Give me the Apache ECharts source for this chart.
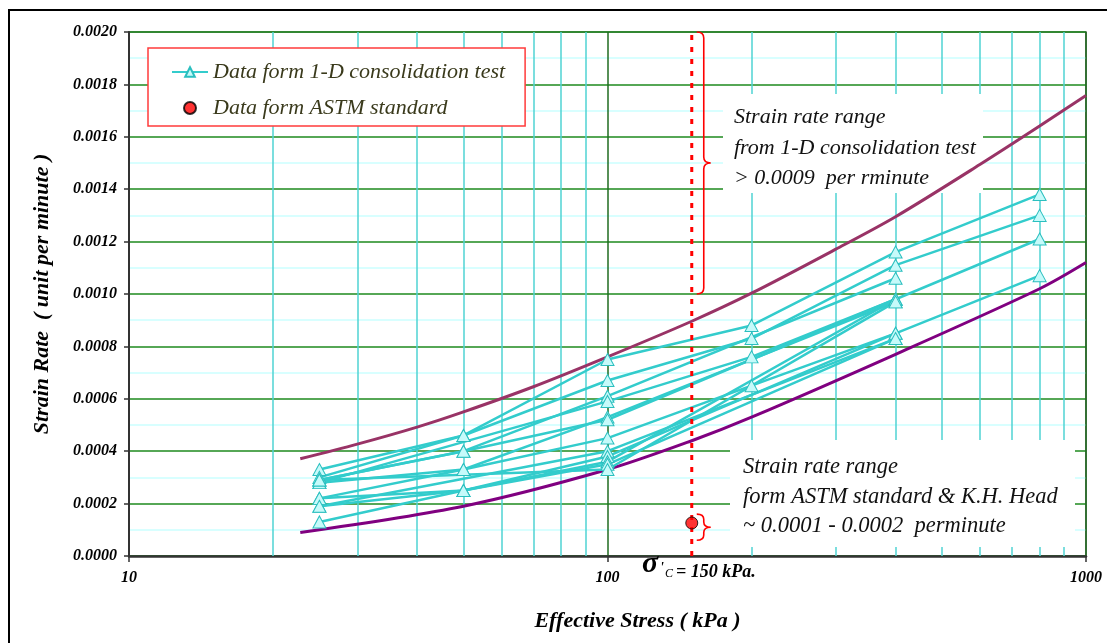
<!DOCTYPE html>
<html>
<head>
<meta charset="utf-8">
<script src="https://cdn.jsdelivr.net/npm/echarts@6/dist/echarts.min.js"></script>
<style>
  html, body { margin: 0; padding: 0; background: #ffffff; }
  #chart { width: 1107px; height: 643px; }
</style>
</head>
<body>
<div id="chart"></div>
<script>
// Load steps (kPa) used in the 1-D consolidation tests
const stressSteps = [25, 50, 100, 200, 400, 800];

// Strain rate (unit per minute) at each load step; null = step not run in that test
const test01 = [0.00033, 0.00046, 0.00075, 0.00088, 0.00116, 0.00138];
const test02 = [0.00030, 0.00046, 0.00067, 0.00083, 0.00111, 0.00130];
const test03 = [0.00029, 0.00040, 0.00061, null,    0.00106, null];
const test04 = [0.00028, null,    0.00059, 0.00076, 0.00098, 0.00121];
const test05 = [0.00028, 0.00033, 0.00053, null,    0.00097, null];
const test06 = [0.00029, 0.00040, 0.00052, null,    0.00098, null];
const test07 = [0.00022, 0.00033, 0.00045, 0.00065, 0.00085, 0.00107];
const test08 = [0.00019, null,    0.00040, null,    0.00083, null];
const test09 = [0.00022, 0.00025, 0.00038, null,    0.00085, null];
const test10 = [0.00013, 0.00025, 0.00036, null,    0.00098, null];
const test11 = [0.00019, 0.00025, 0.00035, null,    0.00083, null];
const test12 = [0.00029, null,    0.00033, null,    0.00097, null];
const tests = [test01, test02, test03, test04, test05, test06,
               test07, test08, test09, test10, test11, test12];

// Upper and lower envelope of the test results
const upperStress = [22.8, 30, 40, 50, 70, 100, 150, 200, 300, 400, 600, 800, 1000];
const upperRate   = [0.000371, 0.000427, 0.000492, 0.000550, 0.000646, 0.000760, 0.000896, 0.001003,
                     0.001171, 0.001295, 0.001494, 0.001641, 0.001758];
const lowerStress = [22.8, 50, 100, 150, 200, 400, 800, 1000];
const lowerRate   = [0.00009, 0.00019, 0.00033, 0.00044, 0.00053, 0.00077, 0.00102, 0.00112];

// ASTM standard point and preconsolidation pressure
const astmStress = 150;
const astmRate = 0.000126;
const sigmaC = 150;

// Ranges marked by braces: [stress, top rate, bottom rate]
const consolidationRange = [150, 0.0020, 0.0010];
const astmRange = [150, 0.00016, 0.00006];

// Intermediate stresses that get a vertical grid line
const minorStress = [20, 30, 40, 50, 60, 70, 80, 90, 200, 300, 400, 500, 600, 700, 800, 900];

// Axis limits
const xMin = 10, xMax = 1000;
const yMin = 0, yMax = 0.0020, yStep = 0.0002;

const SERIF = '"Liberation Serif", "Times New Roman", serif';
const CYAN = '#33cccc';

const chart = echarts.init(document.getElementById('chart'), null, { renderer: 'canvas' });

function toPairs(xs, ys) {
  const out = [];
  xs.forEach((x, i) => { if (ys[i] != null) out.push([x, ys[i]]); });
  return out;
}

// curly brace opening towards the dashed line, tip pointing right
function braceItem(params, api) {
  const top = api.coord([api.value(0), api.value(1)]);
  const bot = api.coord([api.value(0), api.value(2)]);
  const x0 = top[0] + 5, xs = top[0] + 12, xt = top[0] + 19;
  const y0 = top[1], y1 = bot[1], ym = (y0 + y1) / 2;
  const r = Math.min(6, (y1 - y0) / 5);
  const d = 'M' + x0 + ' ' + y0 +
    ' Q' + xs + ' ' + y0 + ' ' + xs + ' ' + (y0 + r) +
    ' L' + xs + ' ' + (ym - r) +
    ' Q' + xs + ' ' + ym + ' ' + xt + ' ' + ym +
    ' Q' + xs + ' ' + ym + ' ' + xs + ' ' + (ym + r) +
    ' L' + xs + ' ' + (y1 - r) +
    ' Q' + xs + ' ' + y1 + ' ' + x0 + ' ' + y1;
  return {
    type: 'path',
    shape: { pathData: d },
    style: { stroke: '#ff0000', fill: null, lineWidth: 1.6 }
  };
}

// dashed vertical line at the preconsolidation pressure
function sigmaLineItem(params, api) {
  const a = api.coord([api.value(0), api.value(1)]);
  const b = api.coord([api.value(0), api.value(2)]);
  return {
    type: 'line',
    shape: { x1: a[0], y1: a[1], x2: b[0], y2: b[1] },
    style: { stroke: '#ff0000', lineWidth: 3, lineDash: [5, 7] }
  };
}

const testSeries = tests.map(t => ({
  name: 'Data form 1-D consolidation test',
  type: 'line',
  data: toPairs(stressSteps, t),
  symbol: 'triangle',
  symbolSize: [13, 12],
  lineStyle: { color: CYAN, width: 2.5 },
  itemStyle: { color: '#c6fafa', borderColor: '#2bbfbf', borderWidth: 1 },
  z: 3
}));

const labelFont = { fontFamily: SERIF, fontStyle: 'italic', fontWeight: 'bold', fontSize: 16, color: '#000' };
const titleFont = { fontFamily: SERIF, fontStyle: 'italic', fontWeight: 'bold', fontSize: 22, color: '#000' };

const option = {
  animation: false,
  backgroundColor: '#ffffff',
  grid: {
    left: 129, right: 21, top: 32, bottom: 87,
    show: true, borderColor: '#4a574a', borderWidth: 1.5, backgroundColor: 'transparent'
  },
  legend: {
    data: ['Data form 1-D consolidation test', 'Data form ASTM standard'],
    orient: 'vertical',
    left: 148, top: 48,
    padding: [13, 20, 7, 23],
    itemWidth: 36, itemHeight: 12, itemGap: 14,
    backgroundColor: '#ffffff',
    borderColor: '#ff3b3b', borderWidth: 1.5,
    textStyle: { fontFamily: SERIF, fontStyle: 'italic', fontSize: 22, color: '#3a3a1c' }
  },
  xAxis: {
    type: 'log', logBase: 10, min: xMin, max: xMax,
    name: 'Effective Stress ( kPa )',
    nameLocation: 'middle', nameGap: 54,
    nameTextStyle: Object.assign({ padding: [0, 0, 0, 60] }, titleFont),
    axisLine: { lineStyle: { color: '#333333', width: 2.5 } },
    axisTick: { show: true, length: 6, lineStyle: { color: '#333333', width: 1.5 } },
    axisLabel: Object.assign({ margin: 14, formatter: v => String(v) }, labelFont),
    splitLine: { show: true, lineStyle: { color: '#1f6b1f', width: 1.5 } }
  },
  yAxis: {
    type: 'value', min: yMin, max: yMax, interval: yStep,
    name: 'Strain Rate  ( unit per minute )',
    nameLocation: 'middle', nameGap: 76,
    nameTextStyle: titleFont,
    axisLine: { show: true, lineStyle: { color: '#333333', width: 2 } },
    axisTick: { show: true, length: 5, lineStyle: { color: '#333333', width: 1.5 } },
    axisLabel: Object.assign({ margin: 12, formatter: v => v.toFixed(4) }, labelFont),
    splitLine: { show: true, lineStyle: { color: '#1e8a1e', width: 1.5 } },
    minorTick: { show: false, splitNumber: 2 },
    minorSplitLine: { show: true, lineStyle: { color: '#ccffff', width: 1.5 } }
  },
  series: [
    {
      // vertical grid lines at intermediate stresses
      name: 'grid', type: 'line', data: [], z: 1, silent: true,
      markLine: {
        z: 1, silent: true, symbol: ['none', 'none'], animation: false,
        label: { show: false },
        lineStyle: { color: '#4fd3d3', width: 1.5, type: 'solid' },
        emphasis: { disabled: true },
        data: minorStress.map(v => ({ xAxis: v }))
      }
    },
    {
      name: 'Upper bound', type: 'line', smooth: 0.3, symbol: 'none',
      data: toPairs(upperStress, upperRate),
      lineStyle: { color: '#993366', width: 3 }, z: 2
    },
    {
      name: 'Lower bound', type: 'line', smooth: 0.3, symbol: 'none',
      data: toPairs(lowerStress, lowerRate),
      lineStyle: { color: '#800080', width: 3 }, z: 2
    },
    ...testSeries,
    {
      name: 'sigma c', type: 'custom', renderItem: sigmaLineItem,
      data: [[sigmaC, yMin, yMax]], z: 4, silent: true
    },
    {
      name: 'Data form ASTM standard', type: 'scatter',
      data: [[astmStress, astmRate]],
      symbol: 'circle', symbolSize: 12,
      itemStyle: { color: '#ff0000', borderColor: '#000000', borderWidth: 1 }, z: 5
    },
    {
      name: 'ranges', type: 'custom', renderItem: braceItem,
      data: [consolidationRange, astmRange], z: 5, silent: true
    }
  ],
  graphic: [
    { type: 'rect', z: 0, silent: true,
      shape: { x: 9, y: 10, width: 1200, height: 700 },
      style: { fill: null, stroke: '#000000', lineWidth: 2 } },
    // note box for the 1-D consolidation range
    { type: 'rect', z: 1.5, silent: true,
      shape: { x: 723, y: 94, width: 260, height: 99 },
      style: { fill: '#ffffff', stroke: null } },
    { type: 'text', z: 3, left: 734, top: 102,
      style: { text: 'Strain rate range\nfrom 1-D consolidation test\n> 0.0009  per rminute',
               font: 'italic 22px ' + SERIF, fill: '#111111', lineHeight: 30.5 } },
    // note box for the ASTM range
    { type: 'rect', z: 1.5, silent: true,
      shape: { x: 730, y: 440, width: 345, height: 107 },
      style: { fill: '#ffffff', stroke: null } },
    { type: 'text', z: 3, left: 743, top: 452,
      style: { text: 'Strain rate range\nform ASTM standard & K.H. Head\n~ 0.0001 - 0.0002  perminute',
               font: 'italic 22.5px ' + SERIF, fill: '#111111', lineHeight: 29.8 } },
    // preconsolidation pressure label
    { type: 'text', z: 3, left: 642, top: 549,
      style: { text: 'σ', font: 'italic bold 30px ' + SERIF, fill: '#000' } },
    { type: 'text', z: 3, left: 660, top: 561,
      style: { text: '\'', font: 'italic bold 14px ' + SERIF, fill: '#000' } },
    { type: 'text', z: 3, left: 665, top: 568,
      style: { text: 'C', font: 'italic 12px ' + SERIF, fill: '#000' } },
    { type: 'text', z: 3, left: 676, top: 563,
      style: { text: '= 150 kPa.', font: 'italic bold 18px ' + SERIF, fill: '#000' } }
  ]
};

chart.setOption(option);
</script>
</body>
</html>
